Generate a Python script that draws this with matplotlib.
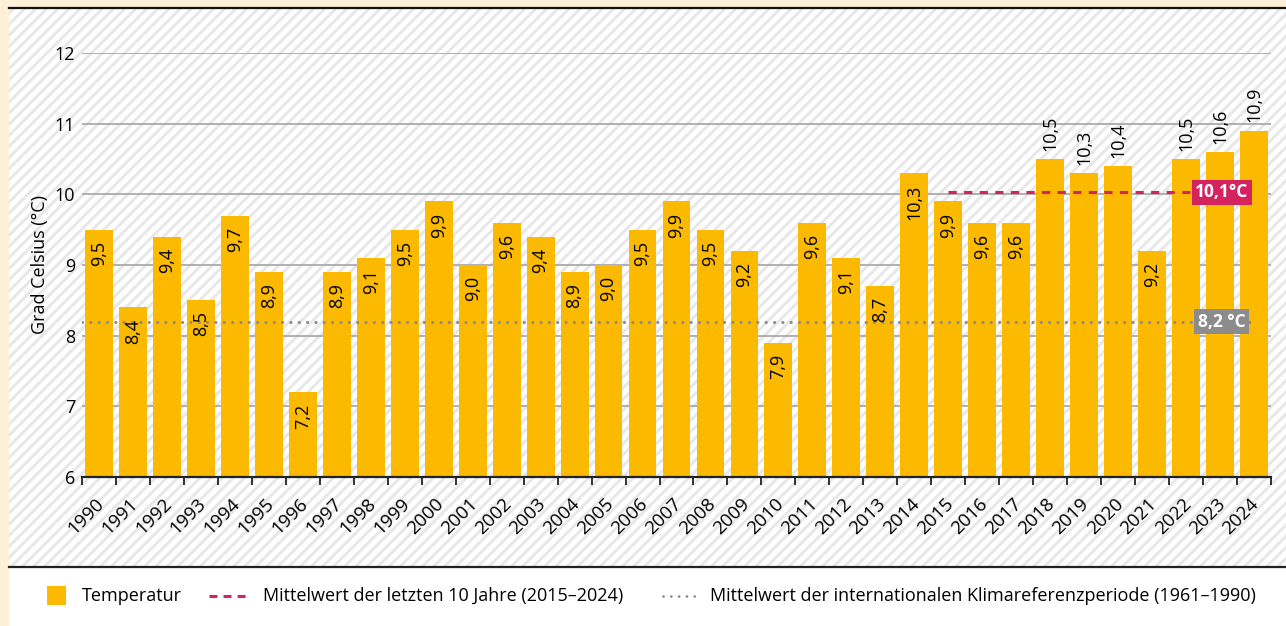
import numpy as np
import matplotlib
matplotlib.use("Agg")
import matplotlib.pyplot as plt
from matplotlib.patches import Rectangle
from matplotlib.lines import Line2D

years = [str(y) for y in range(1990, 2025)]
temps = [9.5, 8.4, 9.4, 8.5, 9.7, 8.9, 7.2, 8.9, 9.1, 9.5, 9.9, 9.0, 9.6, 9.4, 8.9,
         9.0, 9.5, 9.9, 9.5, 9.2, 7.9, 9.6, 9.1, 8.7, 10.3, 9.9, 9.6, 9.6, 10.5, 10.3,
         10.4, 9.2, 10.5, 10.6, 10.9]
label_above = ["2018", "2019", "2020", "2022", "2023", "2024"]
mean_recent = 10.03
mean_recent_label = "10,1°C"
mean_ref = 8.2
mean_ref_label = "8,2 °C"
yticks = [6, 7, 8, 9, 10, 11, 12]

YELLOW = "#fbba00"
CRIMSON = "#d5235f"
GREY = "#8c8c8c"
CREAM = "#fdefd8"

plt.rcParams['font.family'] = ['Open Sans', 'DejaVu Sans']
plt.rcParams['hatch.color'] = '#e8e8e8'
plt.rcParams['hatch.linewidth'] = 2.2

W, H = 1286, 626
fig = plt.figure(figsize=(W / 100, H / 100), dpi=100)
fig.patch.set_facecolor('white')

def fx(px):
    return px / W

def fy(py):
    return 1 - py / H

# background: cream frame, hatched panel, black rules
fig.patches.append(Rectangle((0, 0), fx(9), 1, transform=fig.transFigure,
                             facecolor=CREAM, edgecolor='none', zorder=-2))
fig.patches.append(Rectangle((0, fy(8)), 1, 8 / H, transform=fig.transFigure,
                             facecolor=CREAM, edgecolor='none', zorder=-2))
fig.patches.append(Rectangle((fx(9), fy(566)), 1, (566 - 9) / H, transform=fig.transFigure,
                             facecolor='white', edgecolor='#e8e8e8', hatch='///',
                             linewidth=0, zorder=-2))
fig.add_artist(Line2D([fx(9), 1], [fy(8), fy(8)], color='#111111', lw=1.6, zorder=-1))
fig.add_artist(Line2D([fx(9), 1], [fy(567), fy(567)], color='#222222', lw=1.6, zorder=-1))

ax = fig.add_axes([fx(82), fy(477), fx(1271) - fx(82), (477 - 53) / H])
ax.set_facecolor('none')
ax.set_zorder(2)

x = np.arange(len(years))
ax.bar(x, [t - 6 for t in temps], bottom=6, width=0.82, color=YELLOW, zorder=3)

for xi, yr, t in zip(x, years, temps):
    s = f"{t:.1f}".replace('.', ',')
    if yr in label_above:
        ax.annotate(s, (xi, t), xytext=(0, 6), textcoords='offset points', rotation=90,
                    ha='center', va='bottom', fontsize=13, annotation_clip=False, zorder=5)
    else:
        ax.annotate(s, (xi, t), xytext=(0, -8), textcoords='offset points', rotation=90,
                    ha='center', va='top', fontsize=13, zorder=5)
    # year label, rotated 45 degrees below the axis
    ax.annotate(yr, (xi, 6), xytext=(-3, -13), textcoords='offset points', rotation=45,
                rotation_mode='anchor', ha='right', va='top', fontsize=13.5,
                annotation_clip=False)

# mean lines
ax.plot([25, 33.3], [mean_recent, mean_recent], color=CRIMSON, lw=2.2,
        dashes=(2.7, 2.4), zorder=4)
ax.plot([-0.5, 34.0], [mean_ref, mean_ref], color=GREY, lw=2.3,
        dashes=(0.01, 2.6), dash_capstyle='round', zorder=4)
ax.text(33.05, mean_recent, mean_recent_label, ha='center', va='center', color='white',
        fontsize=12.5, fontweight='bold', zorder=6,
        bbox=dict(boxstyle='square,pad=0.2', facecolor=CRIMSON, edgecolor='none'))
ax.text(33.05, mean_ref, mean_ref_label, ha='center', va='center', color='white',
        fontsize=12.5, fontweight='bold', zorder=6,
        bbox=dict(boxstyle='square,pad=0.2', facecolor=GREY, edgecolor='none'))

ax.set_xlim(-0.5, len(years) - 0.5)
ax.set_ylim(6, 12)
ax.set_yticks(yticks)
ax.set_yticklabels([str(v) for v in yticks], fontsize=13)
ax.yaxis.grid(True, color='#aaaaaa', lw=1.3, zorder=1)
ax.set_axisbelow(True)
ax.tick_params(axis='y', length=0, pad=5)

ax.set_xticks(list(x - 0.5) + [len(years) - 0.5])
ax.set_xticklabels([])
ax.tick_params(axis='x', which='major', length=6, width=1.3, color='#222222')

for sp in ['top', 'right', 'left']:
    ax.spines[sp].set_visible(False)
ax.spines['bottom'].set_linewidth(1.6)
ax.spines['bottom'].set_color('#222222')
ax.spines['bottom'].set_zorder(5)

ax.set_ylabel("Grad Celsius (°C)", fontsize=13, labelpad=4)

# legend row
ly = fy(596)
fig.patches.append(Rectangle((fx(47), fy(605)), fx(19), 19 / H, transform=fig.transFigure,
                             facecolor=YELLOW, edgecolor='none'))
fig.text(fx(82), ly, "Temperatur", fontsize=13, va='center', ha='left')
fig.add_artist(Line2D([fx(209), fx(248)], [ly, ly], color=CRIMSON, lw=2.2, dashes=(2.6, 2.0)))
fig.text(fx(263), ly, "Mittelwert der letzten 10 Jahre (2015–2024)", fontsize=13,
         va='center', ha='left')
fig.add_artist(Line2D([fx(663), fx(700)], [ly, ly], color=GREY, lw=2.0,
                      dashes=(0.01, 2.8), dash_capstyle='round'))
fig.text(fx(710), ly, "Mittelwert der internationalen Klimareferenzperiode (1961–1990)",
         fontsize=13, va='center', ha='left')

fig.savefig("out.png", dpi=100)
